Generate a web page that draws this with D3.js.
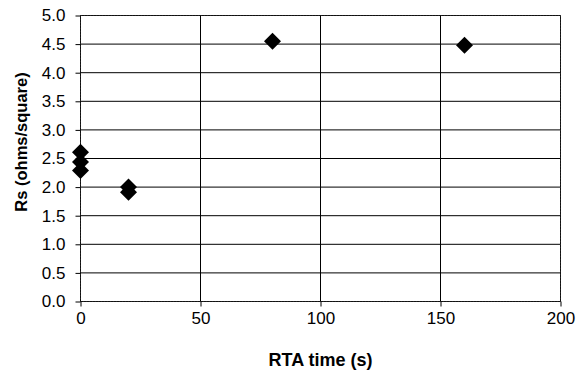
<!DOCTYPE html>
<html>
<head>
<meta charset="utf-8">
<script src="https://cdn.jsdelivr.net/npm/d3@7"></script>
<style>
  body { margin: 0; background: #fff; }
  text { font-family: "Liberation Sans", Arial, sans-serif; fill: #000; }
</style>
</head>
<body>
<div id="chart"></div>
<script>
// data
const rtaTime = [0, 0, 0, 20, 20, 80, 160]
const rsValues = [2.61, 2.44, 2.29, 2.0, 1.91, 4.55, 4.48]
const xTicks = [0, 50, 100, 150, 200]
const yTicks = [0, 0.5, 1, 1.5, 2, 2.5, 3, 3.5, 4, 4.5, 5]

let dimensions = {
    width: 577,
    height: 374,
    margin: { top: 15.5, bottom: 72.5, left: 80.5, right: 16.5 }
}

const svg = d3.select('#chart')
    .append('svg')
    .attr('width', dimensions.width)
    .attr('height', dimensions.height)

const w = dimensions.width - dimensions.margin.left - dimensions.margin.right
const h = dimensions.height - dimensions.margin.top - dimensions.margin.bottom

const container = svg.append('g')
    .attr('transform', `translate(${dimensions.margin.left},${dimensions.margin.top})`)

const xScale = d3.scaleLinear().domain([0, 200]).range([0, w])
const yScale = d3.scaleLinear().domain([0, 5]).range([h, 0])

// horizontal gridlines
container.append('g')
    .selectAll('line')
    .data(yTicks)
    .join('line')
    .attr('x1', 0).attr('x2', w)
    .attr('y1', d => yScale(d)).attr('y2', d => yScale(d))
    .attr('stroke', '#000')
    .attr('stroke-width', 1)

// vertical gridlines
container.append('g')
    .selectAll('line')
    .data(xTicks)
    .join('line')
    .attr('x1', d => xScale(d)).attr('x2', d => xScale(d))
    .attr('y1', 0).attr('y2', h)
    .attr('stroke', '#000')
    .attr('stroke-width', 1)

// frame, a bit dotted like the scan
container.append('rect')
    .attr('width', w).attr('height', h)
    .attr('fill', 'none')
    .attr('stroke', '#222')
    .attr('stroke-dasharray', '2,1')

// X axis
const xAxis = d3.axisBottom(xScale).tickValues(xTicks).tickSize(5).tickPadding(5).tickFormat(d3.format('d'))
const xAxisGroup = container.append('g')
    .attr('transform', `translate(0, ${h})`)
    .call(xAxis)
xAxisGroup.select('.domain').remove()
xAxisGroup.selectAll('line').attr('stroke', '#000')
xAxisGroup.selectAll('text')
    .attr('font-size', '17px')
    .attr('font-family', '"Liberation Sans", Arial, sans-serif')
    .attr('fill', '#000')

// Y axis
const yAxis = d3.axisLeft(yScale).tickValues(yTicks).tickSize(5).tickPadding(10).tickFormat(d3.format('.1f'))
const yAxisGroup = container.append('g').call(yAxis)
yAxisGroup.select('.domain').remove()
yAxisGroup.selectAll('line').attr('stroke', '#000')
yAxisGroup.selectAll('text')
    .attr('font-size', '17px')
    .attr('font-family', '"Liberation Sans", Arial, sans-serif')
    .attr('fill', '#000')

// axis titles
container.append('text')
    .attr('x', w / 2)
    .attr('y', h + 64)
    .attr('font-size', '18px')
    .attr('font-weight', 'bold')
    .attr('text-anchor', 'middle')
    .text('RTA time (s)')

svg.append('text')
    .attr('transform', 'translate(27,142) rotate(-90)')
    .attr('font-size', '16.5px')
    .attr('font-weight', 'bold')
    .attr('text-anchor', 'middle')
    .text('Rs (ohms/square)')

// diamond markers
const points = rtaTime.map((t, i) => ({ t: t, rs: rsValues[i] }))
const diamond = d3.symbol().type(d3.symbolSquare).size(145)

container.append('g')
    .selectAll('path')
    .data(points)
    .join('path')
    .attr('d', diamond)
    .attr('transform', d => `translate(${xScale(d.t)},${yScale(d.rs)}) rotate(45)`)
    .attr('fill', '#000')
</script>
</body>
</html>
